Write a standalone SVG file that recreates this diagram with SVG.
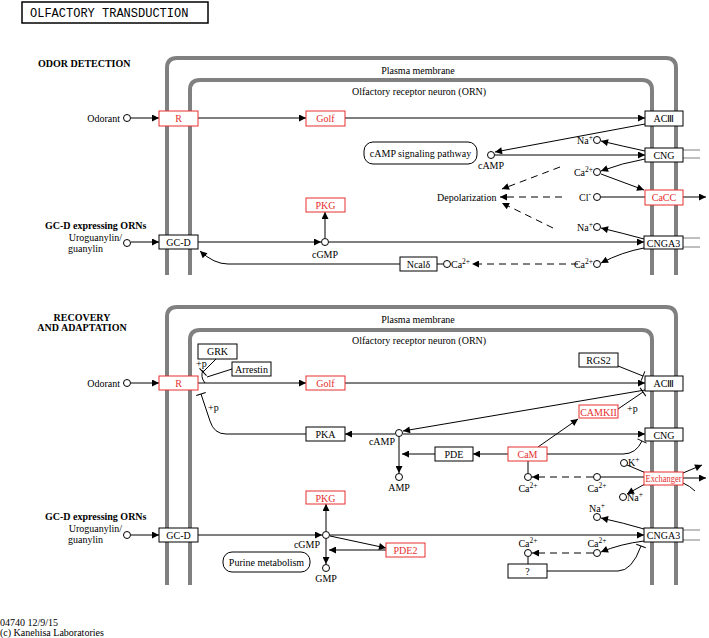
<svg xmlns="http://www.w3.org/2000/svg" width="709" height="638" viewBox="0 0 709 638">
<style>
.mem{fill:none;stroke:#808080;stroke-width:4}
.ch{fill:none;stroke:#808080;stroke-width:1.2}
.b{fill:#fff;stroke:#000;stroke-width:1}
.r{fill:#fff;stroke:#e62e2e;stroke-width:1}
.rb{fill:#fff;stroke:#000;stroke-width:1}
.t{font-family:"Liberation Serif","Times New Roman",serif;font-size:10px;fill:#000}
.rt{font-family:"Liberation Serif","Times New Roman",serif;font-size:10px;fill:#e62e2e}
.bold{font-family:"Liberation Serif","Times New Roman",serif;font-size:10px;font-weight:bold;fill:#000}
.m{text-anchor:middle}
.e{text-anchor:end}
.c{fill:#fff;stroke:#000;stroke-width:1}
.l{fill:none;stroke:#000;stroke-width:1}
.a{fill:none;stroke:#000;stroke-width:1;marker-end:url(#arr)}
.d{fill:none;stroke:#000;stroke-width:1;stroke-dasharray:7,5;marker-end:url(#arr)}
.i{fill:none;stroke:#000;stroke-width:1;marker-end:url(#bar)}
.sup{font-size:7.5px}
</style>
<defs>
<marker id="arr" viewBox="0 0 10 10" refX="10" refY="5" markerWidth="9" markerHeight="7" orient="auto" markerUnits="userSpaceOnUse"><path d="M0,0L10,5L0,10z" fill="#000"/></marker>
<marker id="bar" viewBox="-1 -6 2 12" refX="0" refY="0" markerWidth="2" markerHeight="12" orient="auto" markerUnits="userSpaceOnUse"><path d="M0,-5V5" stroke="#000" stroke-width="1"/></marker>
</defs>
<rect width="709" height="638" fill="#fff"/>

<g id="title">
<rect x="22" y="2" width="186" height="21" fill="#fff" stroke="#000" stroke-width="1.5"/>
<text x="30" y="17" font-family="'Liberation Mono','Courier New',monospace" font-size="12" fill="#000">OLFACTORY TRANSDUCTION</text>
</g>

<g id="membranes">
<path class="mem" d="M167,275V68Q167,58 177,58H666Q676,58 676,68V275"/>
<path class="mem" d="M190,275V90Q190,80 200,80H642Q652,80 652,90V275"/>
<path class="mem" d="M167,585V317Q167,307 177,307H666Q676,307 676,317V585"/>
<path class="mem" d="M190,585V340Q190,330 200,330H642Q652,330 652,340V585"/>
<path class="ch" d="M683,150H700M683,158H700M683,238H700M683,247H700M683,530H700M683,540H700"/>
</g>

<g id="labels">
<text class="bold" x="38" y="67">ODOR DETECTION</text>
<text class="t m" x="418" y="74">Plasma membrane</text>
<text class="t" x="352" y="95">Olfactory receptor neuron (ORN)</text>
<text class="bold" x="45" y="229">GC-D expressing ORNs</text>
<text class="bold m" x="82" y="321">RECOVERY</text>
<text class="bold m" x="82" y="331">AND ADAPTATION</text>
<text class="t m" x="418" y="323">Plasma membrane</text>
<text class="t" x="352" y="344">Olfactory receptor neuron (ORN)</text>
<text class="bold" x="45" y="520">GC-D expressing ORNs</text>
<text class="t" x="0" y="626" font-size="9.5">04740 12/9/15</text>
<text class="t" x="0" y="636" font-size="9.5">(c) Kanehisa Laboratories</text>
<text class="t" x="437" y="201">Depolarization</text>
<text class="t" x="196" y="367">+p</text>
<text class="t" x="208" y="411">+p</text>
<text class="t" x="627" y="412">+p</text>
</g>

<g id="connectors">
<path class="a" d="M131,118H159"/>
<path class="a" d="M198,118H306"/>
<path class="a" d="M345,118H645"/>
<path class="a" d="M645,124L495,152"/>
<path class="a" d="M495,155H645"/>
<path class="a" d="M645,151Q622,146 601,141"/>
<path class="a" d="M645,159Q622,163 601,171"/>
<path class="a" d="M601,174L644,190"/>
<path class="l" d="M601,197H645"/>
<path class="a" d="M683,197H706"/>
<path class="d" d="M562,197H500"/>
<path class="d" d="M560,167L502,189"/>
<path class="d" d="M553,228L502,203"/>
<path class="a" d="M131,242H159"/>
<path class="a" d="M198,242H321"/>
<path class="a" d="M325,238V212"/>
<path class="a" d="M329,242H644"/>
<path class="a" d="M644,239Q622,233 601,228"/>
<path class="a" d="M644,248Q622,252 601,263"/>
<path class="d" d="M578,264H472"/>
<path class="l" d="M437,264H443"/>
<path class="a" d="M400,264H228Q214,264 200,251"/>
<path class="a" d="M131,383H159"/>
<path class="a" d="M198,383H306"/>
<path class="a" d="M345,383H645"/>
<path class="i" d="M216,359L203,372"/>
<path class="l" d="M232,369L207,377"/>
<path class="l" d="M203,370Q200,377 205,383"/>
<path class="i" d="M306,434H226Q214,434 210,421L201,394"/>
<path class="a" d="M395,434H345"/>
<path class="a" d="M403,434H645"/>
<path class="a" d="M645,390L403,431"/>
<path class="i" d="M618,366L643,376"/>
<path class="i" d="M618,409L643,392"/>
<path class="a" d="M538,447L578,419"/>
<path class="a" d="M508,454H473"/>
<path class="a" d="M435,454H402"/>
<path class="a" d="M399,437V473"/>
<path class="i" d="M547,454H623Q636,454 642,441"/>
<path class="l" d="M528,461V473"/>
<path class="d" d="M593,477H532"/>
<path class="l" d="M601,477H644"/>
<path class="a" d="M683,478H706"/>
<path class="a" d="M683,473L702,465"/>
<path class="l" d="M683,483Q690,486 695,491"/>
<path class="l" d="M627,465L646,473"/>
<path class="a" d="M645,484L627,494"/>
<path class="a" d="M644,529Q624,523 601,518"/>
<path class="a" d="M131,535H159"/>
<path class="a" d="M198,535H322"/>
<path class="a" d="M330,535H644"/>
<path class="a" d="M326,531V504"/>
<path class="a" d="M330,536L386,548"/>
<path class="a" d="M386,550H329"/>
<path class="a" d="M326,539V564"/>
<path class="a" d="M644,541Q620,544 601,552"/>
<path class="d" d="M593,553H532"/>
<path class="l" d="M528,564V557"/>
<path class="i" d="M547,571H618Q632,571 641,546"/>
</g>

<g id="odorant1"><circle class="c" cx="127" cy="118" r="3.5"/><text class="t e" x="120" y="122">Odorant</text></g>
<g id="R1"><rect class="r" x="159" y="111" width="39" height="15"/><text class="rt m" x="178.5" y="122">R</text></g>
<g id="Golf1"><rect class="r" x="306" y="111" width="39" height="15"/><text class="rt m" x="325.5" y="122">Golf</text></g>
<g id="ACIII1"><rect class="b" x="645" y="111" width="38" height="15"/><text class="t m" x="664" y="122">ACⅢ</text></g>
<g id="CNG1"><rect class="b" x="645" y="148" width="38" height="14"/><text class="t m" x="664" y="159">CNG</text></g>
<g id="camppath"><rect class="rb" x="364" y="142" width="113" height="22" rx="9"/><text class="t m" x="420.5" y="157">cAMP signaling pathway</text></g>
<g id="cAMP1"><circle class="c" cx="491" cy="155" r="3.5"/><text class="t m" x="491" y="169">cAMP</text></g>
<g id="Na1"><circle class="c" cx="597" cy="140" r="3.5"/><text class="t e" x="593" y="144">Na<tspan class="sup" dy="-4">+</tspan></text></g>
<g id="Ca1"><circle class="c" cx="597" cy="172" r="3.5"/><text class="t e" x="593" y="176">Ca<tspan class="sup" dy="-4">2+</tspan></text></g>
<g id="Cl1"><circle class="c" cx="597" cy="197" r="3.5"/><text class="t e" x="591" y="201">Cl<tspan class="sup" dy="-4">-</tspan></text></g>
<g id="CaCC"><rect class="r" x="645" y="190" width="38" height="15"/><text class="rt m" x="664" y="201">CaCC</text></g>
<g id="uro1"><circle class="c" cx="127" cy="243" r="3.5"/><text class="t e" x="122" y="241">Uroguanylin/</text><text class="t" x="68" y="252">guanylin</text></g>
<g id="GCD1"><rect class="b" x="159" y="235" width="39" height="14"/><text class="t m" x="178.5" y="246">GC-D</text></g>
<g id="cGMP1"><circle class="c" cx="325" cy="242" r="3.5"/><text class="t m" x="325" y="258">cGMP</text></g>
<g id="PKG1"><rect class="r" x="306" y="198" width="39" height="14"/><text class="rt m" x="325.5" y="209">PKG</text></g>
<g id="CNGA3_1"><rect class="b" x="644" y="236" width="39" height="13"/><text class="t m" x="663.5" y="246.5">CNGA3</text></g>
<g id="Na2"><circle class="c" cx="597" cy="227" r="3.5"/><text class="t e" x="593" y="231">Na<tspan class="sup" dy="-4">+</tspan></text></g>
<g id="Ca2"><circle class="c" cx="597" cy="264" r="3.5"/><text class="t e" x="593" y="268">Ca<tspan class="sup" dy="-4">2+</tspan></text></g>
<g id="Ca3"><circle class="c" cx="447" cy="264" r="3.5"/><text class="t" x="451" y="268">Ca<tspan class="sup" dy="-4">2+</tspan></text></g>
<g id="Ncald"><rect class="b" x="400" y="257" width="37" height="14"/><text class="t m" x="418.5" y="268">Ncalδ</text></g>

<g id="odorant2"><circle class="c" cx="127" cy="383" r="3.5"/><text class="t e" x="120" y="387">Odorant</text></g>
<g id="R2"><rect class="r" x="159" y="376" width="39" height="14"/><text class="rt m" x="178.5" y="387">R</text></g>
<g id="Golf2"><rect class="r" x="306" y="376" width="39" height="14"/><text class="rt m" x="325.5" y="387">Golf</text></g>
<g id="ACIII2"><rect class="b" x="645" y="376" width="38" height="15"/><text class="t m" x="664" y="387">ACⅢ</text></g>
<g id="GRK"><rect class="b" x="198" y="344" width="39" height="15"/><text class="t m" x="217.5" y="355">GRK</text></g>
<g id="Arrestin"><rect class="b" x="232" y="362" width="39" height="14"/><text class="t m" x="251.5" y="373">Arrestin</text></g>
<g id="RGS2"><rect class="b" x="579" y="353" width="39" height="14"/><text class="t m" x="598.5" y="364">RGS2</text></g>
<g id="CAMKII"><rect class="r" x="579" y="405" width="39" height="13"/><text class="rt m" x="598.5" y="415.5">CAMKII</text></g>
<g id="PKA"><rect class="b" x="306" y="427" width="39" height="14"/><text class="t m" x="325.5" y="438">PKA</text></g>
<g id="cAMP2"><circle class="c" cx="399" cy="433" r="3.5"/><text class="t e" x="395" y="445">cAMP</text></g>
<g id="CNG2"><rect class="b" x="645" y="428" width="38" height="13"/><text class="t m" x="664" y="438.5">CNG</text></g>
<g id="PDE"><rect class="b" x="435" y="447" width="38" height="14"/><text class="t m" x="454" y="458">PDE</text></g>
<g id="CaM"><rect class="r" x="508" y="447" width="39" height="14"/><text class="rt m" x="527.5" y="458">CaM</text></g>
<g id="AMP"><circle class="c" cx="399" cy="477" r="3.5"/><text class="t m" x="399" y="491">AMP</text></g>
<g id="Ca4"><circle class="c" cx="528" cy="477" r="3.5"/><text class="t m" x="528" y="492">Ca<tspan class="sup" dy="-4">2+</tspan></text></g>
<g id="Ca5"><circle class="c" cx="597" cy="477" r="3.5"/><text class="t m" x="597" y="492">Ca<tspan class="sup" dy="-4">2+</tspan></text></g>
<g id="Exchanger"><rect class="r" x="644" y="472" width="39" height="13"/><text class="rt m" x="663.5" y="482" font-size="8.5" textLength="36" lengthAdjust="spacingAndGlyphs">Exchanger</text></g>
<g id="K"><circle class="c" cx="624" cy="463" r="3.5"/><text class="t" x="628" y="466">K<tspan class="sup" dy="-4">+</tspan></text></g>
<g id="Na3"><circle class="c" cx="623" cy="497" r="3.5"/><text class="t" x="627" y="501">Na<tspan class="sup" dy="-4">+</tspan></text></g>
<g id="Na4"><circle class="c" cx="597" cy="517" r="3.5"/><text class="t m" x="597" y="512">Na<tspan class="sup" dy="-4">+</tspan></text></g>
<g id="uro2"><circle class="c" cx="127" cy="535" r="3.5"/><text class="t e" x="122" y="532">Uroguanylin/</text><text class="t" x="68" y="543">guanylin</text></g>
<g id="GCD2"><rect class="b" x="159" y="528" width="39" height="14"/><text class="t m" x="178.5" y="539">GC-D</text></g>
<g id="cGMP2"><circle class="c" cx="326" cy="535" r="3.5"/><text class="t e" x="320" y="548">cGMP</text></g>
<g id="PKG2"><rect class="r" x="306" y="491" width="39" height="13"/><text class="rt m" x="325.5" y="501.5">PKG</text></g>
<g id="PDE2"><rect class="r" x="386" y="543" width="39" height="14"/><text class="rt m" x="405.5" y="554">PDE2</text></g>
<g id="GMP"><circle class="c" cx="326" cy="568" r="3.5"/><text class="t m" x="326" y="582">GMP</text></g>
<g id="purine"><rect class="rb" x="223" y="552" width="87" height="20" rx="9"/><text class="t m" x="266.5" y="566">Purine metabolism</text></g>
<g id="CNGA3_2"><rect class="b" x="644" y="528" width="39" height="14"/><text class="t m" x="663.5" y="539">CNGA3</text></g>
<g id="Ca6"><circle class="c" cx="528" cy="553" r="3.5"/><text class="t m" x="528" y="547">Ca<tspan class="sup" dy="-4">2+</tspan></text></g>
<g id="Ca7"><circle class="c" cx="597" cy="553" r="3.5"/><text class="t m" x="597" y="547">Ca<tspan class="sup" dy="-4">2+</tspan></text></g>
<g id="unknown"><rect class="b" x="508" y="564" width="39" height="14"/><text class="t m" x="527.5" y="575">?</text></g>
</svg>
